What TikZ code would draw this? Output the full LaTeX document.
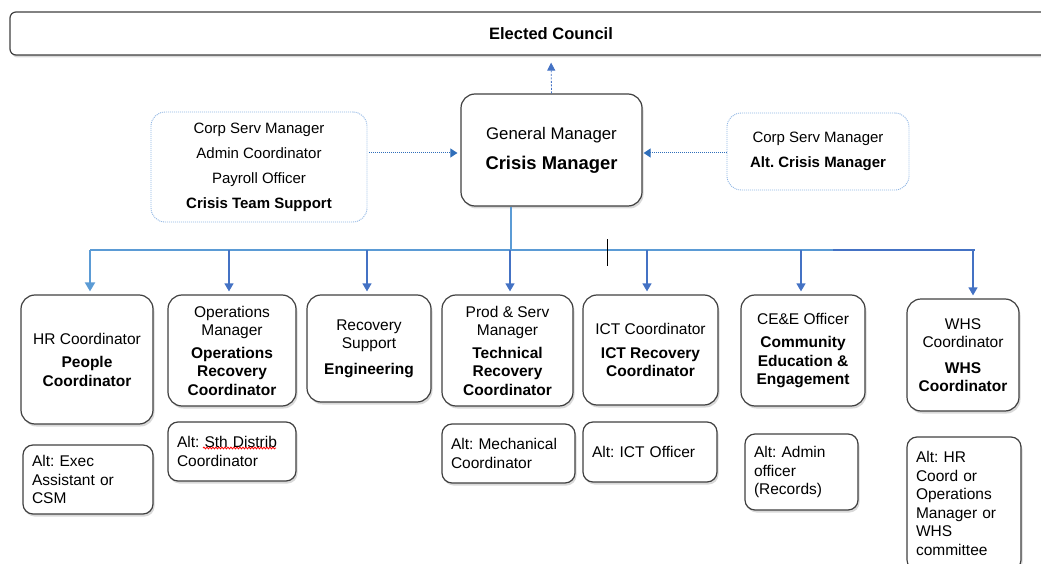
\documentclass[tikz,border=0pt]{standalone}
\usepackage{fontspec}
\setmainfont{Liberation Sans}
\usetikzlibrary{shadows,arrows.meta,decorations.pathmorphing}
\definecolor{boxline}{HTML}{404040}
\definecolor{lblue}{HTML}{5B9BD5}
\definecolor{dblue}{HTML}{4472C4}
\definecolor{dotblue}{HTML}{8EB4E3}
\definecolor{arrblue}{HTML}{2F6EBA}
\begin{document}
\frenchspacing
\begin{tikzpicture}[x=1pt,y=-1pt,
  box/.style={draw=boxline, line width=1.2pt, rounded corners=14pt, fill=white, align=center, inner sep=2pt,
    font=\fontsize{15.5}{18.5}\selectfont\frenchspacing,
    drop shadow={shadow xshift=1.5pt,shadow yshift=-2.5pt,opacity=0.3}},
  altbox/.style={box, rounded corners=10pt, align=left, inner xsep=9pt},
  dotbox/.style={draw=dotblue, dash pattern=on 1pt off 1pt, line width=0.9pt, rounded corners=14pt, align=center,
    font=\fontsize{15}{25}\selectfont\frenchspacing},
  arr/.style={draw=dblue, line width=1.2pt, -{Triangle[width=9pt,length=8pt]}, shorten >=3pt},
  hrarr/.style={draw=lblue, line width=2pt, -{Triangle[width=10pt,length=9pt]}, shorten >=3pt},
  dotarr/.style={draw=arrblue, line width=1pt, dash pattern=on 1pt off 1pt, -{Triangle[width=9pt,length=7pt]}},
  dasharr/.style={draw=dblue, line width=0.8pt, dash pattern=on 2pt off 1.5pt, -{Triangle[width=8pt,length=8pt]}, shorten >=7pt},
]
\useasboundingbox (0,0) rectangle (1041,564);

% top level
\node[box, rounded corners=6pt, minimum width=1082, minimum height=43, font=\fontsize{16.5}{20}\selectfont\bfseries] (council) at (551,33.5) {Elected Council};
\node[box, minimum width=181, minimum height=112, font=\fontsize{16.8}{30}\selectfont] (gm) at (551.5,150)
  {General Manager\\{\fontsize{18.4}{30}\selectfont\bfseries Crisis Manager}};
\node[dotbox, minimum width=216, minimum height=110] (sup) at (259,167)
  {Corp Serv Manager\\Admin Coordinator\\Payroll Officer\\\textbf{Crisis Team Support}};
\node[dotbox, minimum width=182, minimum height=77] (alt) at (818,151.5)
  {Corp Serv Manager\\\textbf{Alt. Crisis Manager}};

% row 1
\node[box, minimum width=132, minimum height=129] (hr) at (87,359.5)
  {HR Coordinator\\[5pt]\textbf{People}\\\textbf{Coordinator}};
\node[box, minimum width=128, minimum height=111] (ops) at (232,350.5)
  {Operations\\Manager\\[4pt]\textbf{Operations}\\\textbf{Recovery}\\\textbf{Coordinator}};
\node[box, minimum width=124, minimum height=107] (rec) at (369,348.5)
  {Recovery\\Support\\[7pt]\textbf{Engineering}};
\node[box, minimum width=131, minimum height=111] (prod) at (507.5,350.5)
  {Prod \& Serv\\Manager\\[4pt]\textbf{Technical}\\\textbf{Recovery}\\\textbf{Coordinator}};
\node[box, minimum width=135, minimum height=110] (ict) at (650.5,350)
  {ICT Coordinator\\[5pt]\textbf{ICT Recovery}\\\textbf{Coordinator}};
\node[box, minimum width=124, minimum height=111] (cee) at (803,350.5)
  {CE\&E Officer\\[5pt]\textbf{Community}\\\textbf{Education \&}\\\textbf{Engagement}};
\node[box, minimum width=112, minimum height=112] (whs) at (963,355)
  {WHS\\Coordinator\\[7pt]\textbf{WHS}\\\textbf{Coordinator}};

% row 2 (alternates)
\node[altbox, text width=112, minimum height=69] (hralt) at (88,479.5) {Alt: Exec\\Assistant or\\CSM};
\node[altbox, text width=110, minimum height=59] (opsalt) at (232,451.5) {Alt: Sth Distrib\\Coordinator};
\node[altbox, text width=115, minimum height=59] (prodalt) at (508.5,453.5) {Alt: Mechanical\\Coordinator};
\node[altbox, text width=116, minimum height=60] (ictalt) at (650,452) {Alt: ICT Officer};
\node[altbox, text width=95, minimum height=76] (ceealt) at (801.5,472) {Alt: Admin\\officer\\(Records)};
\node[altbox, text width=96, minimum height=133] (whsalt) at (964,503.5) {Alt: HR\\Coord or\\Operations\\Manager or\\WHS\\committee};

% spell-check underline
\draw[red, line width=0.8pt, decorate, decoration={snake, amplitude=0.9pt, segment length=3pt}] (203,448) -- (276,448);

% connectors top
\draw[dasharr] (gm.north) -- (council.south);
\draw[dotarr, shorten <=2pt, shorten >=3pt] ([yshift=14pt]sup.east) -- ([yshift=-3pt]gm.west);
\draw[dotarr, shorten >=1pt] ([yshift=-1.5pt]alt.west) -- ([yshift=-3pt]gm.east);

% bus
\coordinate (busL) at (90,250);
\coordinate (busM) at (833,250);
\coordinate (busR) at (975,250);
\draw[lblue, line width=2pt] ([xshift=-40.5pt]gm.south) -- ([xshift=-40.5pt]gm.south |- busL);
\draw[lblue, line width=2pt] (busL) -- (busM);
\draw[dblue, line width=2pt] (busM) -- (busR);
\draw[black, line width=0.8pt] (607,239) -- (607,266);

\draw[hrarr] (busL) -- (busL |- hr.north);
\draw[arr] ([xshift=-3pt]ops.north |- busL) -- ([xshift=-3pt]ops.north);
\draw[arr] ([xshift=-2pt]rec.north |- busL) -- ([xshift=-2pt]rec.north);
\draw[arr] ([xshift=2.5pt]prod.north |- busL) -- ([xshift=2.5pt]prod.north);
\draw[arr] ([xshift=-3.5pt]ict.north |- busL) -- ([xshift=-3.5pt]ict.north);
\draw[arr] ([xshift=-2pt]cee.north |- busL) -- ([xshift=-2pt]cee.north);
\draw[arr] ([xshift=10pt]whs.north |- busL) -- ([xshift=10pt]whs.north);
\end{tikzpicture}
\end{document}
